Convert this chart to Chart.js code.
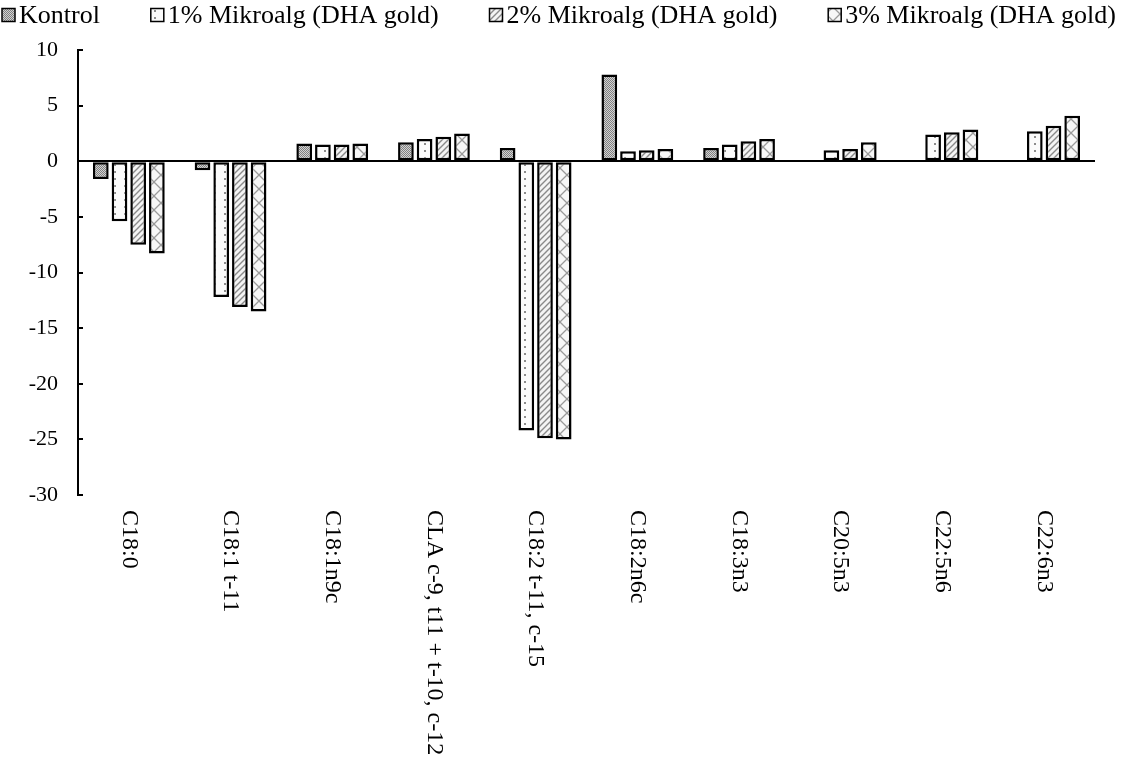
<!DOCTYPE html>
<html>
<head>
<meta charset="utf-8">
<script src="https://cdn.jsdelivr.net/npm/chart.js@4.4.1/dist/chart.umd.min.js"></script>
<style>
  html, body { margin: 0; padding: 0; background: #fff; }
  #wrap { width: 1128px; height: 764px; position: relative; }
</style>
</head>
<body>
<div id="wrap"><canvas id="c" width="1128" height="764"></canvas></div>
<script>
// Fatty acid change values per treatment group
const categories = [
  'C18:0', 'C18:1 t-11', 'C18:1n9c', 'CLA c-9, t11 + t-10, c-12', 'C18:2 t-11, c-15',
  'C18:2n6c', 'C18:3n3', 'C20:5n3', 'C22:5n6', 'C22:6n3'
];
const seriesNames = ['Kontrol', '1% Mikroalg (DHA gold)', '2% Mikroalg (DHA gold)', '3% Mikroalg (DHA gold)'];
const kontrol = [-1.6, -0.8, 1.6, 1.7, 1.2, 7.8, 1.2, null, null, null];
const mikroalg1 = [-5.4, -12.2, 1.5, 2.0, -24.2, 0.9, 1.5, 1.0, 2.4, 2.7];
const mikroalg2 = [-7.5, -13.1, 1.5, 2.2, -24.9, 1.0, 1.8, 1.1, 2.6, 3.2];
const mikroalg3 = [-8.3, -13.5, 1.6, 2.5, -25.0, 1.1, 2.0, 1.7, 2.85, 4.1];
const yTicks = { min: -30, max: 10, step: 5 };

const FONT = '"Liberation Serif", "Times New Roman", serif';

// Hatch fills for the four series
function makeTile(w, h, draw) {
  const c = document.createElement('canvas');
  c.width = w; c.height = h;
  const g = c.getContext('2d');
  draw(g, w, h);
  return document.getElementById('c').getContext('2d').createPattern(c, 'repeat');
}
const stipple = makeTile(2, 2, (g) => {
  g.fillStyle = '#d2d2d2'; g.fillRect(0, 0, 2, 2);
  g.fillStyle = '#808080'; g.fillRect(0, 0, 1, 1); g.fillRect(1, 1, 1, 1);
});
const dots = makeTile(10, 7, (g) => {
  g.fillStyle = '#fbfbfb'; g.fillRect(0, 0, 10, 7);
  g.fillStyle = '#8c8c8c'; g.fillRect(4, 3, 2, 2);
});
const diag = makeTile(6, 6, (g) => {
  g.fillStyle = '#f4f4f4'; g.fillRect(0, 0, 6, 6);
  g.strokeStyle = '#8a8a8a'; g.lineWidth = 1.4;
  g.beginPath();
  g.moveTo(-1, 7); g.lineTo(7, -1);
  g.moveTo(-4, 4); g.lineTo(4, -4);
  g.moveTo(2, 10); g.lineTo(10, 2);
  g.stroke();
});
const cross = makeTile(14, 14, (g) => {
  g.fillStyle = '#f7f7f7'; g.fillRect(0, 0, 14, 14);
  g.strokeStyle = '#9a9a9a'; g.lineWidth = 1.3;
  g.beginPath();
  g.moveTo(0, 0); g.lineTo(14, 14);
  g.moveTo(14, 0); g.lineTo(0, 14);
  g.stroke();
});

const fills = [stipple, dots, diag, cross];
const values = [kontrol, mikroalg1, mikroalg2, mikroalg3];

// Legend row across the top: small hatched boxes followed by series names
const legendRow = {
  id: 'legendRow',
  afterDraw(chart) {
    const ctx = chart.ctx;
    ctx.save();
    ctx.font = '26px ' + FONT;
    ctx.textBaseline = 'middle';
    ctx.textAlign = 'left';
    const box = 13, gapText = 4, left = 2, right = 1116, cy = 15;
    const widths = seriesNames.map((n) => ctx.measureText(n).width);
    const used = widths.reduce((a, b) => a + b, 0) + seriesNames.length * (box + gapText);
    const gapItem = (right - left - used) / (seriesNames.length - 1);
    let x = left;
    seriesNames.forEach((name, i) => {
      ctx.fillStyle = fills[i];
      ctx.fillRect(x, cy - box / 2, box, box);
      ctx.strokeStyle = '#000';
      ctx.lineWidth = 1.5;
      ctx.strokeRect(x, cy - box / 2, box, box);
      ctx.fillStyle = '#000';
      ctx.fillText(name, x + box + gapText, cy + 1);
      x += box + gapText + widths[i] + gapItem;
    });
    ctx.restore();
  }
};

// Inward tick marks on the value axis and rotated category labels
const axisExtras = {
  id: 'axisExtras',
  afterDraw(chart) {
    const ctx = chart.ctx;
    const y = chart.scales.y, x = chart.scales.x;
    ctx.save();
    ctx.strokeStyle = '#000';
    ctx.lineWidth = 2;
    for (let v = yTicks.min; v <= yTicks.max; v += yTicks.step) {
      const py = Math.round(y.getPixelForValue(v));
      ctx.beginPath();
      ctx.moveTo(y.right - 1, py);
      ctx.lineTo(y.right + 5, py);
      ctx.stroke();
    }
    ctx.fillStyle = '#000';
    ctx.font = '24px ' + FONT;
    ctx.textAlign = 'left';
    ctx.textBaseline = 'middle';
    categories.forEach((lab, i) => {
      const px = x.getPixelForValue(i);
      ctx.save();
      ctx.translate(px, chart.chartArea.bottom + 15);
      ctx.rotate(Math.PI / 2);
      ctx.fillText(lab, 0, 0);
      ctx.restore();
    });
    ctx.restore();
  }
};

new Chart(document.getElementById('c'), {
  type: 'bar',
  data: {
    labels: categories,
    datasets: seriesNames.map((name, i) => ({
      label: name,
      data: values[i],
      backgroundColor: fills[i],
      borderColor: '#000',
      borderWidth: 2.5,
      borderSkipped: false,
      categoryPercentage: 0.735,
      barPercentage: 0.84
    }))
  },
  options: {
    responsive: false,
    animation: false,
    devicePixelRatio: 1,
    layout: { padding: { left: 0, right: 33, top: 50, bottom: 261 } },
    plugins: {
      tooltip: { enabled: false },
      legend: { display: false }
    },
    scales: {
      x: {
        grid: { display: false },
        border: { display: false },
        ticks: { display: false }
      },
      y: {
        min: yTicks.min,
        max: yTicks.max,
        afterFit(scale) { scale.width = 78; },
        ticks: {
          stepSize: yTicks.step,
          color: '#000',
          padding: 20,
          font: { family: FONT, size: 22 }
        },
        grid: {
          drawTicks: false,
          lineWidth: 2,
          color: (c) => (c.tick && c.tick.value === 0 ? '#000' : 'rgba(0,0,0,0)')
        },
        border: { display: true, color: '#000', width: 2 }
      }
    }
  },
  plugins: [legendRow, axisExtras]
});
</script>
</body>
</html>
